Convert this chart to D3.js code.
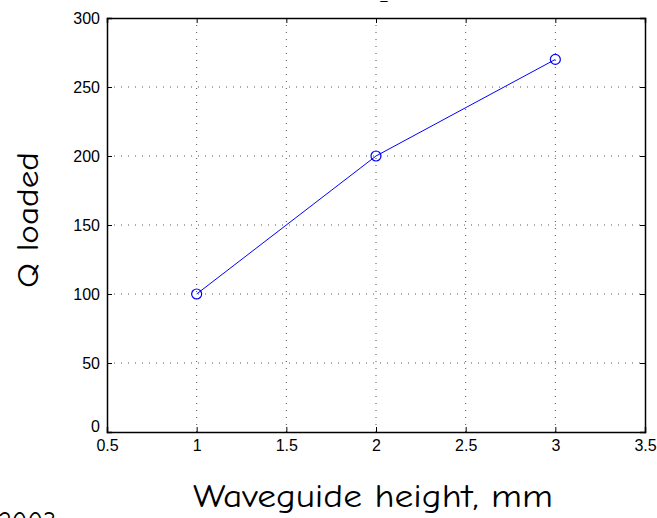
<!DOCTYPE html>
<html lang="en">
<head>
<meta charset="UTF-8" />
<script src="https://d3js.org/d3.v7.min.js"></script>
<style>
  html, body { margin: 0; padding: 0; background: #fff; }
  svg { display: block; }
  .tick text { font-family: Arial, "Liberation Sans", sans-serif; font-size: 16px; fill: #000; }
  .lbl { font-family: "Comic Sans MS", "Comic Neue", "DejaVu Sans", sans-serif; fill: #000; }
</style>
</head>
<body>
<div id="chart"></div>
<script>
// data
var heights = [1, 2, 3];          // waveguide height, mm
var qLoaded = [100, 200, 270];    // Q loaded
var xTicks = [0.5, 1, 1.5, 2, 2.5, 3, 3.5];
var yTicks = [0, 50, 100, 150, 200, 250, 300];

var W = 657, H = 518;
var margin = {top: 18, right: 12, bottom: 86, left: 107};
var width = W - margin.left - margin.right,
    height = H - margin.top - margin.bottom;

var svg = d3.select("#chart").append("svg")
    .attr("width", W).attr("height", H);

var g = svg.append("g")
    .attr("transform", "translate(" + margin.left + "," + margin.top + ")");

var x = d3.scaleLinear().domain([0.5, 3.5]).range([0, width]);
var y = d3.scaleLinear().domain([0, 300]).range([height, 0]);

// dotted grid
g.append("g").selectAll("line")
  .data(xTicks.slice(1, -1))
  .join("line")
    .attr("x1", d => x(d)).attr("x2", d => x(d))
    .attr("y1", 0).attr("y2", height)
    .attr("stroke", "#555").attr("stroke-width", 1)
    .attr("stroke-dasharray", "1,6");
g.append("g").selectAll("line")
  .data(yTicks.slice(1, -1))
  .join("line")
    .attr("y1", d => y(d)).attr("y2", d => y(d))
    .attr("x1", 0).attr("x2", width)
    .attr("stroke", "#555").attr("stroke-width", 1)
    .attr("stroke-dasharray", "1,6");

// axes, ticks pointing inwards like matlab
var xb = g.append("g").attr("transform", "translate(0," + height + ")")
  .call(d3.axisBottom(x).tickValues(xTicks).tickSize(-5).tickPadding(8).tickFormat(d3.format("")));
var xt = g.append("g")
  .call(d3.axisTop(x).tickValues(xTicks).tickSize(-5).tickFormat(""));
var yl = g.append("g")
  .call(d3.axisLeft(y).tickValues(yTicks).tickSize(-5).tickPadding(7).tickFormat(d3.format("")));
var yr = g.append("g").attr("transform", "translate(" + width + ",0)")
  .call(d3.axisRight(y).tickValues(yTicks).tickSize(-5).tickFormat(""));
[xb, xt, yl, yr].forEach(function(a) {
  a.select(".domain").attr("stroke", "#000").attr("stroke-width", 1.5);
  a.selectAll(".tick line").attr("stroke", "#000");
});
// matlab lifts the 0 label off the corner
yl.selectAll(".tick").filter(d => d === 0).select("text").attr("dy", "-0.05em");

// the line and the circle markers
var line = d3.line()
  .x(function(d, i) { return x(heights[i]); })
  .y(function(d) { return y(d); });
g.append("path")
  .datum(qLoaded)
  .attr("fill", "none")
  .attr("stroke", "#0000ff")
  .attr("stroke-width", 1)
  .attr("d", line);
g.append("g").selectAll("circle")
  .data(qLoaded)
  .join("circle")
    .attr("cx", (d, i) => x(heights[i]))
    .attr("cy", d => y(d))
    .attr("r", 5)
    .attr("fill", "none")
    .attr("stroke", "#0000ff")
    .attr("stroke-width", 1.2);

// labels
svg.append("text").attr("class", "lbl")
  .attr("x", 373).attr("y", 507)
  .attr("text-anchor", "middle")
  .attr("textLength", 360).attr("lengthAdjust", "spacingAndGlyphs")
  .style("font-size", "32px")
  .text("Waveguide height, mm");
svg.append("text").attr("class", "lbl")
  .attr("transform", "translate(38,220) rotate(-90)")
  .attr("text-anchor", "middle")
  .attr("textLength", 136).attr("lengthAdjust", "spacingAndGlyphs")
  .style("font-size", "31px")
  .text("Q loaded");
// title and date, cut off by the frame as in the original
svg.append("text").attr("class", "lbl")
  .attr("x", 384).attr("y", 1)
  .attr("text-anchor", "middle")
  .style("font-size", "14px")
  .text("_");
svg.append("text").attr("class", "lbl")
  .attr("x", -2).attr("y", 531)
  .attr("textLength", 58).attr("lengthAdjust", "spacingAndGlyphs")
  .style("font-size", "28px")
  .text("2003");
</script>
</body>
</html>
